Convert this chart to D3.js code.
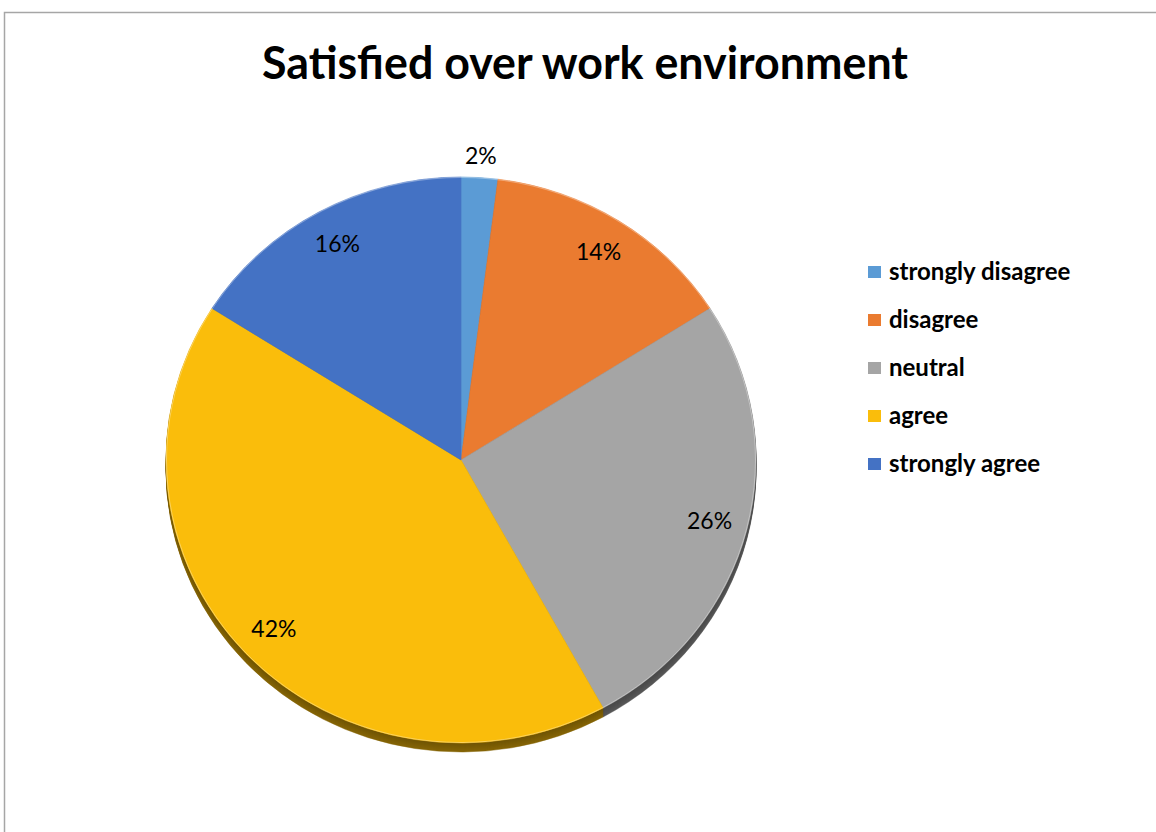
<!DOCTYPE html>
<html>
<head>
<meta charset="utf-8">
<script src="https://cdn.jsdelivr.net/npm/d3@7"></script>
<style>
  html, body { margin: 0; padding: 0; background: #fff; }
  svg { display: block; }
</style>
</head>
<body>
<svg id="chart" width="1156" height="832"></svg>
<script>
// Survey answers and their shares (percent)
const categories = ["strongly disagree", "disagree", "neutral", "agree", "strongly agree"];
const shares = [2, 14, 26, 42, 16];
const colors = ["#5B9BD5", "#EA7B30", "#A5A5A5", "#FABD0B", "#4472C4"];
const title = "Satisfied over work environment";

const W = 1156, H = 832;
const svg = d3.select("#chart");

// chart frame
svg.append("rect")
  .attr("x", 4.5).attr("y", 12.5)
  .attr("width", W + 20).attr("height", H + 20)
  .attr("fill", "#fff").attr("stroke", "#a6a6a6").attr("stroke-width", 1.5);

// title
svg.append("text")
  .attr("x", 585).attr("y", 79)
  .attr("text-anchor", "middle")
  .attr("font-family", "Lato, 'Open Sans', sans-serif")
  .attr("font-weight", 700)
  .attr("font-size", 45)
  .attr("textLength", 646)
  .attr("lengthAdjust", "spacingAndGlyphs")
  .attr("fill", "#000")
  .text(title);

// pie geometry: slightly tilted disc (ellipse) with a thin side wall
const cx = 461, cy = 460, rx = 295, ry = 283, depth = 9;
const data = categories.map((c, i) => ({ name: c, value: shares[i], color: colors[i] }));
const pie = d3.pie().sort(null).value(d => d.value);
const arcs = pie(data);
const arc = d3.arc().innerRadius(0).outerRadius(rx);

// side wall: stacked copies shifted downward in darker tones
for (let k = depth; k >= 1; k--) {
  const shade = 2.3 - k * 0.06;
  const g = svg.append("g")
    .attr("transform", `translate(${cx},${cy + k}) scale(1,${ry / rx})`);
  g.selectAll("path").data(arcs).join("path")
    .attr("d", arc)
    .attr("fill", d => d3.color(d.data.color).darker(shade))
    .attr("stroke", d => d3.color(d.data.color).darker(shade))
    .attr("stroke-width", 0.5);
}

// top face
const face = svg.append("g")
  .attr("transform", `translate(${cx},${cy}) scale(1,${ry / rx})`);
face.selectAll("path").data(arcs).join("path")
  .attr("d", arc)
  .attr("fill", d => d.data.color)
  .attr("stroke", d => d.data.color)
  .attr("stroke-width", 0.6);

// faint edge highlight
face.append("circle")
  .attr("r", rx - 0.5)
  .attr("fill", "none")
  .attr("stroke", "rgba(255,255,255,0.35)")
  .attr("stroke-width", 1);

// percentage labels: inside for ordinary slices, just outside for tiny ones
const labelArcIn = d3.arc().innerRadius(rx * 0.87).outerRadius(rx * 0.87);
const labelArcOut = d3.arc().innerRadius(rx * 1.075).outerRadius(rx * 1.075);
svg.append("g").selectAll("text").data(arcs).join("text")
  .attr("transform", d => {
    const small = (d.endAngle - d.startAngle) < 0.2;
    const [x, y] = (small ? labelArcOut : labelArcIn).centroid(d);
    return `translate(${cx + x},${cy + y * ry / rx})`;
  })
  .attr("text-anchor", "middle")
  .attr("dy", "0.35em")
  .attr("font-family", "Lato, 'Open Sans', sans-serif")
  .attr("font-size", 23)
  .attr("fill", "#000")
  .text(d => d.data.value + "%");

// legend
const legend = svg.append("g").attr("transform", "translate(868,272)");
const rowGap = 48;
const row = legend.selectAll("g").data(data).join("g")
  .attr("transform", (d, i) => `translate(0,${i * rowGap})`);
row.append("rect")
  .attr("x", 0).attr("y", -6)
  .attr("width", 13).attr("height", 12)
  .attr("fill", d => d.color);
row.append("text")
  .attr("x", 21).attr("y", 0)
  .attr("dy", "0.35em")
  .attr("font-family", "Lato, 'Open Sans', sans-serif")
  .attr("font-weight", 700)
  .attr("font-size", 24)
  .attr("fill", "#000")
  .text(d => d.name);
</script>
</body>
</html>
